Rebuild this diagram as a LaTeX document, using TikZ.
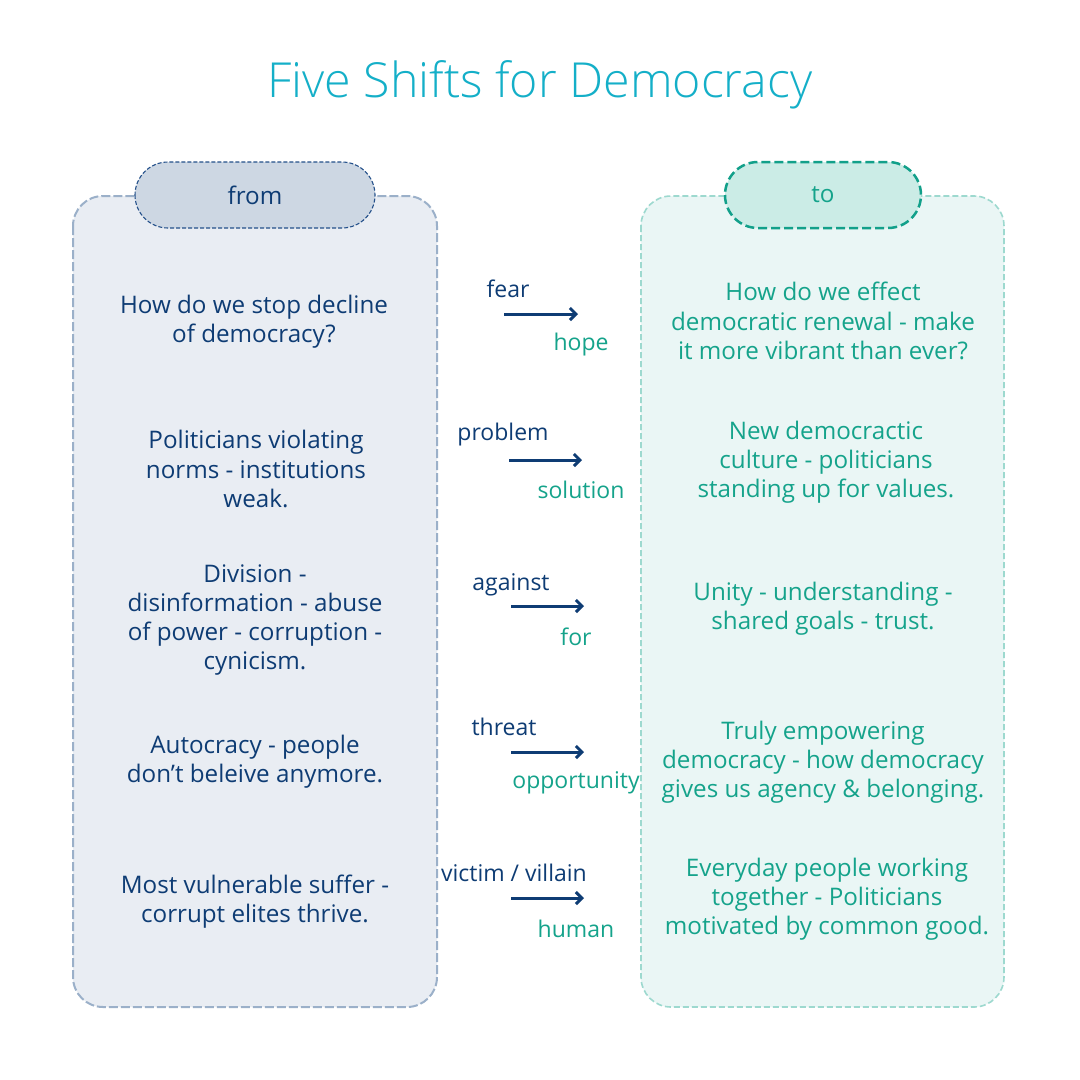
\documentclass[tikz,border=0pt]{standalone}
\usepackage{fontspec}
\setmainfont{Open Sans}
\newfontfamily\titlefont{Open Sans Light}
\usetikzlibrary{arrows.meta}
\definecolor{titlecol}{HTML}{14AFC8}
\definecolor{fromtxt}{HTML}{0E3C74}
\definecolor{fromfill}{HTML}{E9EDF3}
\definecolor{fromborder}{HTML}{9BB0C9}
\definecolor{fromtabfill}{HTML}{CDD7E3}
\definecolor{fromtabborder}{HTML}{24508A}
\definecolor{totxt}{HTML}{15A38B}
\definecolor{tofill}{HTML}{EAF6F5}
\definecolor{toborder}{HTML}{9DD9CF}
\definecolor{totabfill}{HTML}{CBECE6}
\definecolor{totabborder}{HTML}{12A08A}
\tikzset{
  x=1pt,y=-1pt,
  body/.style={font=\fontsize{24.2}{29.2}\selectfont, align=center, inner sep=0pt},
  lab/.style={font=\fontsize{23}{28}\selectfont, inner sep=0pt},
  fromtext/.style={body, text=fromtxt},
  totext/.style={body, text=totxt},
  fromlab/.style={lab, text=fromtxt},
  tolab/.style={lab, text=totxt},
  frombox/.style={draw=fromborder, fill=fromfill, line width=2pt, dash pattern=on 9pt off 3pt, rounded corners=30pt},
  tobox/.style={draw=toborder, fill=tofill, line width=1.6pt, dash pattern=on 6pt off 3pt, rounded corners=30pt},
  fromtab/.style={draw=fromtabborder, fill=fromtabfill, line width=1.1pt, dash pattern=on 4pt off 2pt, rounded corners=33pt},
  totab/.style={draw=totabborder, fill=totabfill, line width=2.5pt, dash pattern=on 9pt off 4pt, rounded corners=33pt},
  shiftarrow/.style={draw=fromtxt, line width=3pt, -{Straight Barb[length=6pt,width=12pt,line width=3pt]}},
}
\begin{document}
\begin{tikzpicture}
\useasboundingbox (0,0) rectangle (1080,1080);
\fill[white] (0,0) rectangle (1080,1080);
% title
\node[text=titlecol, font=\titlefont\fontsize{48.3}{56}\selectfont, inner sep=0pt, anchor=base] (title) at (540,97) {Five Shifts for Democracy};
% boxes
\path[frombox] (73,196) rectangle (437,1007);
\path[tobox] (641,196) rectangle (1004,1007);
\path[fromtab] (135,162) rectangle (375,228);
\path[totab] (725,162) rectangle (921,228);
\node[fromtext] (fromlabel) at (255,195) {from};
\node[totext] (tolabel) at (823,195) {to};
% left column
\node[fromtext] (l1) at (254,322) {How do we stop decline\\of democracy?};
\node[fromtext] (l2) at (256,469) {Politicians violating\\norms - institutions\\weak.};
\node[fromtext] (l3) at (255,620) {Division -\\disinformation - abuse\\of power - corruption -\\cynicism.};
\node[fromtext] (l4) at (255,762) {Autocracy - people\\don’t beleive anymore.};
\node[fromtext] (l5) at (255,902) {Most vulnerable suffer -\\corrupt elites thrive.};
% right column
\node[totext] (r1) at (823,321) {How do we effect\\democratic renewal - make\\it more vibrant than ever?};
\node[totext] (r2) at (826,462) {New democractic\\culture - politicians\\standing up for values.};
\node[totext] (r3) at (823,609) {Unity - understanding -\\shared goals - trust.};
\node[totext] (r4) at (823,762) {Truly empowering\\democracy - how democracy\\gives us agency \& belonging.};
\node[totext] (r5) at (827,899) {Everyday people working\\together - Politicians\\motivated by common good.};
% shift arrows and labels
\coordinate (a1s) at (504,314); \coordinate (a1e) at (578,314);
\coordinate (a2s) at (509,460); \coordinate (a2e) at (582,460);
\coordinate (a3s) at (511,606); \coordinate (a3e) at (584,606);
\coordinate (a4s) at (511,752); \coordinate (a4e) at (584,752);
\coordinate (a5s) at (511,898); \coordinate (a5e) at (584,898);
\draw[shiftarrow] (a1s) -- (a1e);
\draw[shiftarrow] (a2s) -- (a2e);
\draw[shiftarrow] (a3s) -- (a3e);
\draw[shiftarrow] (a4s) -- (a4e);
\draw[shiftarrow] (a5s) -- (a5e);
\node[fromlab] (t1) at (508,289) {fear};
\node[tolab] (b1) at (581,345) {hope};
\node[fromlab] (t2) at (503,435) {problem};
\node[tolab] (b2) at (581,490) {solution};
\node[fromlab] (t3) at (511,585) {against};
\node[tolab] (b3) at (576,637) {for};
\node[fromlab] (t4) at (504,727) {threat};
\node[tolab] (b4) at (576,783) {opportunity};
\node[fromlab] (t5) at (514,873) {victim / villain};
\node[tolab] (b5) at (576,929) {human};
\end{tikzpicture}
\end{document}
